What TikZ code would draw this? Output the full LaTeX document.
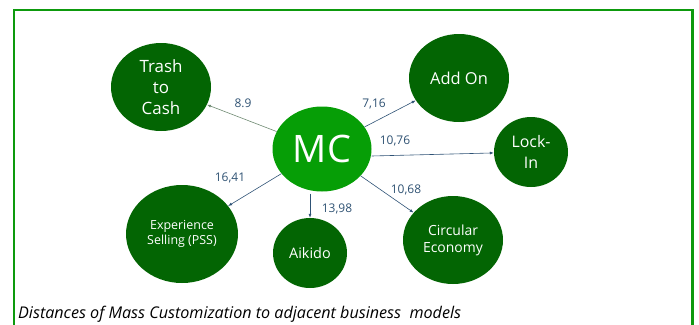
\documentclass[tikz,border=0pt]{standalone}
\usepackage{fontspec}
\setmainfont{Open Sans}
\usetikzlibrary{arrows.meta,shapes.geometric}
\definecolor{framegreen}{HTML}{0D9A0D}
\definecolor{hubgreen}{HTML}{069E06}
\definecolor{modelgreen}{HTML}{036503}
\definecolor{linkblue}{HTML}{2E5275}
\definecolor{linkgrey}{HTML}{6E8A72}
\definecolor{labelblue}{HTML}{2F5273}
\tikzset{
  model/.style={ellipse, fill=modelgreen, text=white, align=center, inner sep=0pt},
  hub/.style={ellipse, fill=hubgreen, text=white, inner sep=0pt},
  link/.style={draw=linkblue, line width=0.6pt, -{Latex[length=4pt,width=3pt]}},
  dist/.style={text=labelblue, font=\fontsize{12}{14}\selectfont, inner sep=0pt},
}
\begin{document}
\begin{tikzpicture}[x=1bp, y=-1bp]
\useasboundingbox (0,0) rectangle (699,324);
% outer frame, open at the bottom
\draw[framegreen, line width=3pt] (14,330) -- (14,10) -- (692,10) -- (692,330);

% business model circles
\node[hub, minimum width=99bp, minimum height=85bp, font=\fontsize{38}{40}\selectfont] (mc) at (322,149) {MC};
\node[model, minimum width=100bp, minimum height=88bp, font=\fontsize{17}{21}\selectfont] (trash) at (161,87) {Trash\\to\\Cash};
\node[model, minimum width=100bp, minimum height=88bp, font=\fontsize{16.5}{20}\selectfont] (addon) at (459,78) {Add On};
\node[model, minimum width=74bp, minimum height=70bp, font=\fontsize{16}{21}\selectfont] (lockin) at (531,152) {Lock-\\In};
\node[model, minimum width=112bp, minimum height=98bp, font=\fontsize{12.5}{14.5}\selectfont] (exp) at (182,234) {Experience\\Selling (PSS)};
\node[model, minimum width=74bp, minimum height=70bp, font=\fontsize{14.5}{17}\selectfont] (aikido) at (310,253) {Aikido};
\node[model, minimum width=100bp, minimum height=88bp, font=\fontsize{14}{17}\selectfont] (circ) at (453,240) {Circular\\Economy};

% distance arrows
\coordinate (lstart) at ([shift={(0,7)}]mc.east);
\coordinate (astart) at ([shift={(-12,2)}]mc.south);
\draw[link, draw=linkgrey, {Latex[length=4pt,width=3pt]}-] (trash) -- (mc);
\draw[link] (mc) -- (addon);
\draw[link] (lstart) -- (lockin);
\draw[link] (mc) -- (exp);
\draw[link] (astart) -- (aikido.north);
\draw[link] (mc) -- (circ);

% distance labels
\node[dist] (d1) at (243,103) {8.9};
\node[dist] (d2) at (374,104) {7,16};
\node[dist] (d3) at (395,141) {10,76};
\node[dist] (d4) at (230,178) {16,41};
\node[dist] (d5) at (337,209) {13,98};
\node[dist] (d6) at (406,190) {10,68};

% caption
\node[anchor=base west, inner sep=0pt, font=\itshape\fontsize{16.2}{19}\selectfont] (cap) at (18,318) {Distances of Mass Customization to adjacent business\ \ models};
\end{tikzpicture}
\end{document}
